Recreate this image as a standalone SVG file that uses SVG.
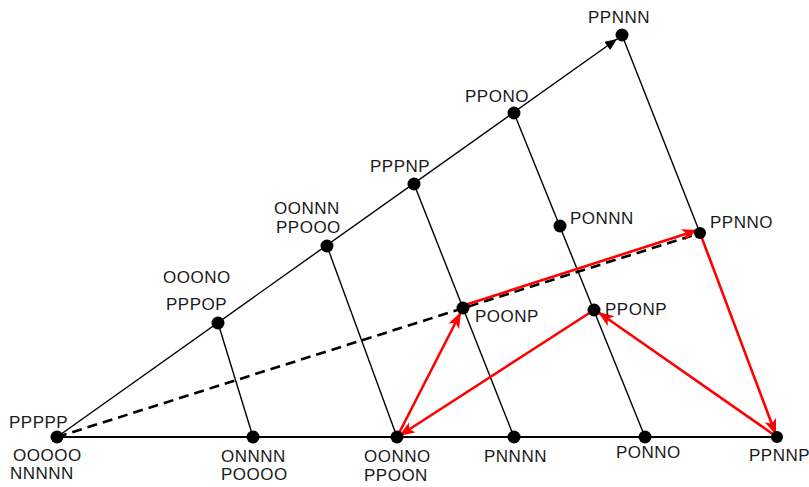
<svg xmlns="http://www.w3.org/2000/svg" width="809" height="487" viewBox="0 0 809 487">
<style>
.dot{fill:#000}
.lbl{font-family:"Liberation Sans",Arial,sans-serif;font-size:17px;letter-spacing:0.5px;fill:#1a1a1a}
.ln{stroke:#000;stroke-width:1.4;fill:none}
.axis{stroke:#000;stroke-width:2;fill:none}
.dash{stroke:#000;stroke-width:2.6;stroke-dasharray:10 6;fill:none}
.red{stroke:#ff0000;stroke-width:2.6;fill:none;marker-end:url(#ra)}
</style>
<defs>
<marker id="ra" markerUnits="userSpaceOnUse" markerWidth="18" markerHeight="14" refX="16" refY="6" orient="auto">
<path d="M0,0 L16,6 L0,12 L4,6 Z" fill="#ff0000"/>
</marker>
<marker id="ba" markerUnits="userSpaceOnUse" markerWidth="14" markerHeight="12" refX="12" refY="5" orient="auto">
<path d="M0,0 L12,5 L0,10 Z" fill="#000"/>
</marker>
</defs>
<rect width="809" height="487" fill="#fff"/>
<g id="connectors">
<line class="axis" x1="57" y1="437" x2="777" y2="437"/>
<line class="ln" x1="57" y1="437" x2="617" y2="39" marker-end="url(#ba)"/>
<line class="ln" x1="218" y1="323" x2="253" y2="437"/>
<line class="ln" x1="327" y1="246" x2="397" y2="437"/>
<line class="ln" x1="414" y1="184" x2="514" y2="437"/>
<line class="ln" x1="514" y1="113" x2="645" y2="437"/>
<line class="ln" x1="622" y1="35" x2="700" y2="233"/>
<line class="dash" x1="57" y1="437" x2="697" y2="234"/>
<line class="red" x1="465" y1="305" x2="698" y2="230"/>
<line class="red" x1="700" y1="233" x2="776" y2="435"/>
<line class="red" x1="777" y1="437" x2="598" y2="312"/>
<line class="red" x1="594" y1="310" x2="399" y2="436"/>
<line class="red" x1="397" y1="437" x2="461" y2="312"/>
</g>
<g id="n-PPPPP"><circle class="dot" cx="57" cy="437" r="6.5"/><text class="lbl" x="9" y="428">PPPPP</text><text class="lbl" x="13" y="461">OOOOO</text><text class="lbl" x="10" y="479">NNNNN</text></g>
<g id="n-ONNNN"><circle class="dot" cx="253" cy="437" r="6.5"/><text class="lbl" x="221" y="462">ONNNN</text><text class="lbl" x="221" y="480">POOOO</text></g>
<g id="n-OONNO"><circle class="dot" cx="397" cy="437" r="6.5"/><text class="lbl" x="364" y="462">OONNO</text><text class="lbl" x="364" y="481">PPOON</text></g>
<g id="n-PNNNN"><circle class="dot" cx="514" cy="437" r="6.5"/><text class="lbl" x="484" y="462">PNNNN</text></g>
<g id="n-PONNO"><circle class="dot" cx="645" cy="437" r="6.5"/><text class="lbl" x="616" y="458">PONNO</text></g>
<g id="n-PPNNP"><circle class="dot" cx="777" cy="437" r="6"/><text class="lbl" x="749" y="461">PPNNP</text></g>
<g id="n-PPPOP"><circle class="dot" cx="218" cy="323" r="6.5"/><text class="lbl" x="163" y="283">OOONO</text><text class="lbl" x="166" y="310">PPPOP</text></g>
<g id="n-OONNN"><circle class="dot" cx="327" cy="246" r="6.5"/><text class="lbl" x="274" y="214">OONNN</text><text class="lbl" x="276" y="233">PPOOO</text></g>
<g id="n-PPPNP"><circle class="dot" cx="414" cy="184" r="6.5"/><text class="lbl" x="370" y="172">PPPNP</text></g>
<g id="n-PPONO"><circle class="dot" cx="514" cy="113" r="6.5"/><text class="lbl" x="465" y="102">PPONO</text></g>
<g id="n-PPNNN"><circle class="dot" cx="622" cy="35" r="6.5"/><text class="lbl" x="588" y="23">PPNNN</text></g>
<g id="n-PONNN"><circle class="dot" cx="560" cy="226" r="6.5"/><text class="lbl" x="570" y="224">PONNN</text></g>
<g id="n-PPNNO"><circle class="dot" cx="700" cy="233" r="6"/><text class="lbl" x="710" y="228">PPNNO</text></g>
<g id="n-POONP"><circle class="dot" cx="463" cy="308" r="6.5"/><text class="lbl" x="475" y="322">POONP</text></g>
<g id="n-PPONP"><circle class="dot" cx="594" cy="310" r="6.5"/><text class="lbl" x="605" y="315">PPONP</text></g>
</svg>
